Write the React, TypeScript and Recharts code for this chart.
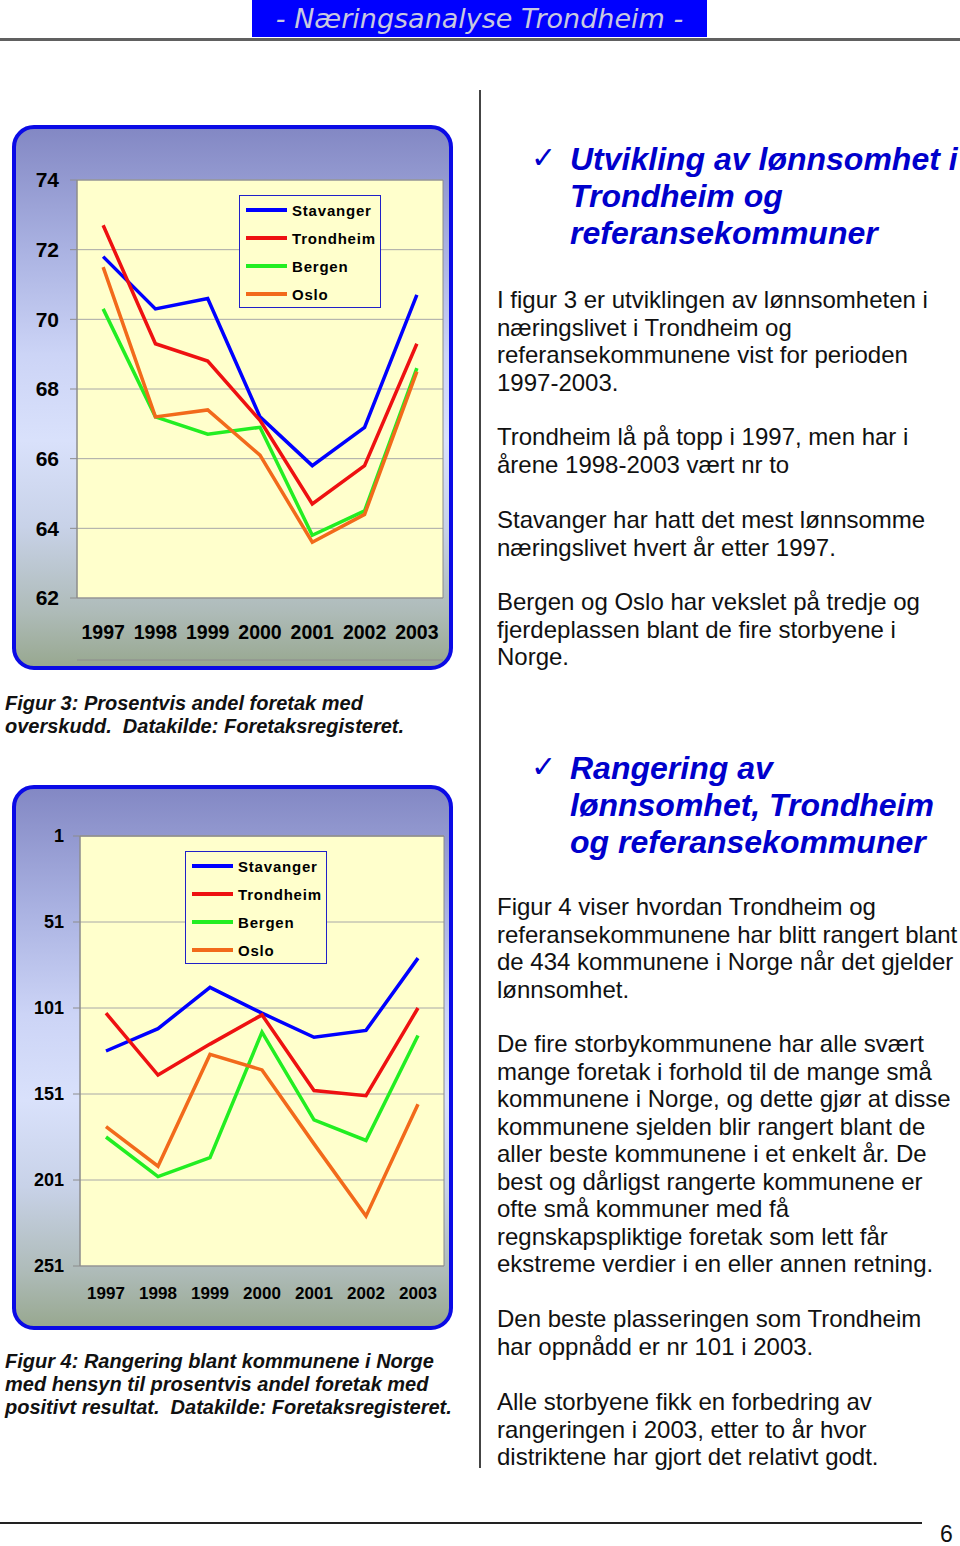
import React from "react";
import {
  LineChart,
  Line,
  XAxis,
  YAxis,
  CartesianGrid,
  Legend,
  ReferenceArea,
} from "recharts";

const years = ["1997", "1998", "1999", "2000", "2001", "2002", "2003"];
const cities = ["Stavanger", "Trondheim", "Bergen", "Oslo"];

// Figur 3: prosentvis andel foretak med overskudd
const shareStavanger = [71.8, 70.3, 70.6, 67.2, 65.8, 66.9, 70.7];
const shareTrondheim = [72.7, 69.3, 68.8, 67.1, 64.7, 65.8, 69.3];
const shareBergen = [70.3, 67.2, 66.7, 66.9, 63.8, 64.5, 68.6];
const shareOslo = [71.5, 67.2, 67.4, 66.1, 63.6, 64.4, 68.5];
const shareTicks = [62, 64, 66, 68, 70, 72, 74];

// Figur 4: rangering blant kommunene
const rankStavanger = [126, 113, 89, 104, 118, 114, 72];
const rankTrondheim = [104, 140, 122, 105, 149, 152, 101];
const rankBergen = [176, 199, 188, 115, 166, 178, 117];
const rankOslo = [170, 193, 128, 137, 180, 222, 157];
const rankTicks = [1, 51, 101, 151, 201, 251];

const edgeTicks = [0, 1, 2, 3, 4, 5, 6, 7];

const cityColors: Record<string, string> = {
  Stavanger: "#0000ff",
  Trondheim: "#ee1111",
  Bergen: "#22ee22",
  Oslo: "#f26a1b",
};

const FONT = '"Liberation Sans", Arial, sans-serif';

function buildRows(a: number[], b: number[], c: number[], d: number[]) {
  return years.map((year, i) => ({
    year,
    Stavanger: a[i],
    Trondheim: b[i],
    Bergen: c[i],
    Oslo: d[i],
  }));
}

const shareData = buildRows(shareStavanger, shareTrondheim, shareBergen, shareOslo);
const rankData = buildRows(rankStavanger, rankTrondheim, rankBergen, rankOslo);

const LegendBox = (props: any) => {
  const payload = [...(props.payload || [])].sort(
    (a: any, b: any) => cities.indexOf(a.value) - cities.indexOf(b.value)
  );
  return (
    <div
      style={{
        width: 142,
        height: 113,
        boxSizing: "border-box",
        border: "1.5px solid #2020c8",
        background: "#ffffcc",
      }}
    >
      {payload.map((p: any) => (
        <div key={p.value} style={{ height: 28, display: "flex", alignItems: "center" }}>
          <span style={{ marginLeft: 6, width: 41, height: 4, background: p.color, display: "inline-block" }} />
          <span
            style={{
              marginLeft: 5,
              fontFamily: FONT,
              fontWeight: 700,
              fontSize: 15,
              letterSpacing: 0.8,
              color: "#000",
            }}
          >
            {p.value}
          </span>
        </div>
      ))}
    </div>
  );
};

const boxStyle = (top: number): React.CSSProperties => ({
  position: "absolute",
  left: 12,
  top,
  width: 441,
  height: 545,
  boxSizing: "border-box",
  border: "4px solid #0a0ae6",
  borderRadius: 22,
  overflow: "hidden",
  background:
    "linear-gradient(180deg, #8388c4 0%, #a9b1e1 22%, #ccd4f6 42%, #d9e1fb 58%, #c8d2e8 74%, #aebbb8 90%, #98a890 100%)",
});

interface PanelProps {
  top: number;
  data: any[];
  domain: [number, number];
  ticks: number[];
  reversed?: boolean;
  yWidth: number;
  yFont: number;
  yMargin: number;
  xFont: number;
  xDy: number;
  edgeTop?: boolean;
  margin: { top: number; right: number; left: number; bottom: number };
  labelHeight: number;
  legendLeft: number;
  legendTop: number;
}

function Panel(p: PanelProps) {
  const gray = "#8c8c8c";
  return (
    <div style={boxStyle(p.top)}>
      <LineChart width={433} height={537} data={p.data} margin={p.margin}>
        <CartesianGrid vertical={false} stroke="#a8a8a8" fill="#ffffcc" fillOpacity={1} />
        <XAxis
          xAxisId="edge"
          type="number"
          domain={[0, 7]}
          ticks={edgeTicks}
          tick={false}
          tickSize={5}
          height={6}
          orientation={p.edgeTop ? "top" : "bottom"}
          axisLine={{ stroke: gray }}
          tickLine={{ stroke: gray }}
        />
        <XAxis
          dataKey="year"
          scale="band"
          axisLine={false}
          tickLine={false}
          height={p.labelHeight}
          interval={0}
          tick={{ fill: "#000", fontSize: p.xFont, fontWeight: 700, fontFamily: FONT, dy: p.xDy }}
        />
        <YAxis
          type="number"
          domain={p.domain}
          ticks={p.ticks}
          reversed={p.reversed}
          width={p.yWidth}
          interval={0}
          tickSize={7}
          tickMargin={p.yMargin}
          axisLine={{ stroke: gray }}
          tickLine={{ stroke: gray }}
          tick={{ fill: "#000", fontSize: p.yFont, fontWeight: 700, fontFamily: FONT }}
        />
        <ReferenceArea y1={p.domain[0]} y2={p.domain[1]} fill="none" stroke={gray} strokeWidth={1} />
        {cities.map((c) => (
          <Line
            key={c}
            type="linear"
            dataKey={c}
            stroke={cityColors[c]}
            strokeWidth={3.5}
            dot={false}
            isAnimationActive={false}
          />
        ))}
        <Legend
          layout="vertical"
          align="center"
          verticalAlign="middle"
          content={LegendBox}
          wrapperStyle={{ left: p.legendLeft, top: p.legendTop, width: 142, height: 113 }}
        />
      </LineChart>
    </div>
  );
}

const bodyStyle: React.CSSProperties = {
  position: "absolute",
  left: 497,
  fontFamily: FONT,
  fontSize: 24,
  lineHeight: "27.5px",
  color: "#111",
  whiteSpace: "nowrap",
};

const headStyle: React.CSSProperties = {
  position: "absolute",
  left: 570,
  fontFamily: FONT,
  fontSize: 32,
  fontWeight: 700,
  fontStyle: "italic",
  lineHeight: "37px",
  color: "#0000cc",
  whiteSpace: "nowrap",
};

const checkStyle: React.CSSProperties = {
  position: "absolute",
  left: 531,
  fontFamily: '"DejaVu Sans", sans-serif',
  fontSize: 30,
  color: "#0000cc",
  lineHeight: "37px",
};

const captionStyle: React.CSSProperties = {
  position: "absolute",
  left: 5,
  fontFamily: FONT,
  fontSize: 20,
  fontWeight: 700,
  fontStyle: "italic",
  lineHeight: "23px",
  color: "#111",
  whiteSpace: "nowrap",
};

function Para({ top, lines }: { top: number; lines: string[] }) {
  return (
    <div style={{ ...bodyStyle, top }}>
      {lines.map((l, i) => (
        <div key={i}>{l}</div>
      ))}
    </div>
  );
}

export default function App() {
  return (
    <div style={{ position: "absolute", left: 0, top: 0, width: 960, height: 1546, background: "#fff", overflow: "hidden" }}>
      {/* topptekst */}
      <div
        style={{
          position: "absolute",
          left: 252,
          top: 0,
          width: 455,
          height: 37,
          background: "#0000ff",
          color: "#c8c8e0",
          fontFamily: '"DejaVu Sans", sans-serif',
          fontStyle: "italic",
          fontSize: 27,
          lineHeight: "37px",
          textAlign: "center",
          whiteSpace: "nowrap",
        }}
      >
        - Næringsanalyse Trondheim -
      </div>
      <div style={{ position: "absolute", left: 0, top: 38, width: 960, height: 3, background: "#606060" }} />
      <div style={{ position: "absolute", left: 479, top: 90, width: 1.5, height: 1378, background: "#444" }} />

      <Panel
        top={125}
        data={shareData}
        domain={[62, 74]}
        ticks={shareTicks}
        yWidth={61}
        yFont={21}
        yMargin={11}
        xFont={19.5}
        xDy={19}
        margin={{ top: 51, right: 6, left: 0, bottom: 0 }}
        labelHeight={62}
        legendLeft={223}
        legendTop={66}
      />
      <div style={{ ...captionStyle, top: 692 }}>
        <div>Figur 3: Prosentvis andel foretak med</div>
        <div>overskudd.&nbsp; Datakilde: Foretaksregisteret.</div>
      </div>

      <Panel
        top={785}
        data={rankData}
        domain={[1, 251]}
        ticks={rankTicks}
        reversed
        edgeTop
        yWidth={64}
        yFont={18}
        yMargin={9}
        xFont={17}
        xDy={13}
        margin={{ top: 41, right: 5, left: 0, bottom: 0 }}
        labelHeight={60}
        legendLeft={169}
        legendTop={62}
      />
      <div style={{ ...captionStyle, top: 1350 }}>
        <div>Figur 4: Rangering blant kommunene i Norge</div>
        <div>med hensyn til prosentvis andel foretak med</div>
        <div>positivt resultat.&nbsp; Datakilde: Foretaksregisteret.</div>
      </div>

      {/* høyre kolonne */}
      <div style={{ ...checkStyle, top: 139 }}>✓</div>
      <div style={{ ...headStyle, top: 141 }}>
        <div>Utvikling av lønnsomhet i</div>
        <div>Trondheim og</div>
        <div>referansekommuner</div>
      </div>
      <Para
        top={286}
        lines={[
          "I figur 3 er utviklingen av lønnsomheten i",
          "næringslivet i Trondheim og",
          "referansekommunene vist for perioden",
          "1997-2003.",
        ]}
      />
      <Para top={423} lines={["Trondheim lå på topp i 1997, men har i", "årene 1998-2003 vært nr to"]} />
      <Para top={506} lines={["Stavanger har hatt det mest lønnsomme", "næringslivet hvert år etter 1997."]} />
      <Para
        top={588}
        lines={[
          "Bergen og Oslo har vekslet på tredje og",
          "fjerdeplassen blant de fire storbyene i",
          "Norge.",
        ]}
      />

      <div style={{ ...checkStyle, top: 748 }}>✓</div>
      <div style={{ ...headStyle, top: 750 }}>
        <div>Rangering av</div>
        <div>lønnsomhet, Trondheim</div>
        <div>og referansekommuner</div>
      </div>
      <Para
        top={893}
        lines={[
          "Figur 4 viser hvordan Trondheim og",
          "referansekommunene har blitt rangert blant",
          "de 434 kommunene i Norge når det gjelder",
          "lønnsomhet.",
        ]}
      />
      <Para
        top={1030}
        lines={[
          "De fire storbykommunene har alle svært",
          "mange foretak i forhold til de mange små",
          "kommunene i Norge, og dette gjør at disse",
          "kommunene sjelden blir rangert blant de",
          "aller beste kommunene i et enkelt år.  De",
          "best og dårligst rangerte kommunene er",
          "ofte små kommuner med få",
          "regnskapspliktige foretak som lett får",
          "ekstreme verdier i en eller annen retning.",
        ]}
      />
      <Para
        top={1305}
        lines={["Den beste plasseringen som Trondheim", "har oppnådd er nr 101 i 2003."]}
      />
      <Para
        top={1388}
        lines={[
          "Alle storbyene fikk en forbedring av",
          "rangeringen i 2003, etter to år hvor",
          "distriktene har gjort det relativt godt.",
        ]}
      />

      <div style={{ position: "absolute", left: 0, top: 1522, width: 922, height: 1.5, background: "#222" }} />
      <div
        style={{
          position: "absolute",
          left: 940,
          top: 1523,
          fontFamily: FONT,
          fontSize: 23,
          lineHeight: "22px",
          color: "#111",
        }}
      >
        6
      </div>
    </div>
  );
}
